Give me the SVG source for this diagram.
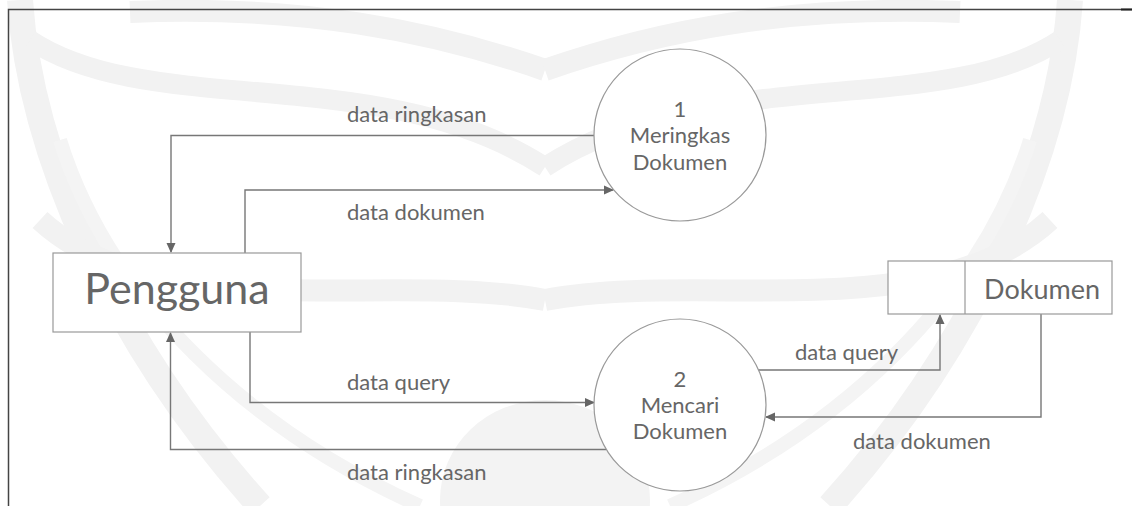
<svg xmlns="http://www.w3.org/2000/svg" width="1132" height="506" viewBox="0 0 1132 506">
<defs>
<marker id="arr" markerWidth="10" markerHeight="10" refX="9" refY="5" orient="auto" markerUnits="userSpaceOnUse">
<path d="M0,0.5 L10,5 L0,9.5 Z" fill="#666"/>
</marker>
<g id="wmhalf">
<path d="M20,0 C30,150 110,340 260,506" fill="none" stroke="#f2f2f2" stroke-width="26"/>
<path d="M60,140 C110,300 250,430 420,506" fill="none" stroke="#f4f4f4" stroke-width="14"/>
<path d="M130,12 C300,5 430,30 545,70" fill="none" stroke="#f2f2f2" stroke-width="22"/>
<path d="M30,40 C150,120 380,60 545,167" fill="none" stroke="#f2f2f2" stroke-width="20"/>
<path d="M40,220 C160,330 390,270 545,300" fill="none" stroke="#f2f2f2" stroke-width="22"/>
</g>
</defs>
<style>
.lbl{font-family:Lato,"Open Sans",sans-serif;font-size:22px;fill:#666}
.node{fill:#fff;stroke:#999;stroke-width:1.2}
.conn{fill:none;stroke:#777;stroke-width:1.4;marker-end:url(#arr)}
</style>
<rect width="1132" height="506" fill="#fff"/>
<g id="watermark">
<use href="#wmhalf"/>
<use href="#wmhalf" transform="translate(1090,0) scale(-1,1)"/>
<ellipse cx="545" cy="500" rx="105" ry="100" fill="#f3f3f3"/>
</g>
<g id="border">
<path d="M8.5,506 L8.5,9.5 L1132,9.5" fill="none" stroke="#444" stroke-width="1.5"/>
<path d="M1121,9.5 L1132,9.5" stroke="#222" stroke-width="2"/>
</g>
<g id="connectors">
<path class="conn" d="M595,135.5 L171,135.5 L171,252"/>
<path class="conn" d="M245,253 L245,190 L613,190"/>
<path class="conn" d="M250,332 L250,402.5 L594,402.5"/>
<path class="conn" d="M606,449.5 L170.5,449.5 L170.5,333"/>
<path class="conn" d="M758,370 L940,370 L940,315"/>
<path class="conn" d="M1041,314 L1041,417 L766,417"/>
<text class="lbl" x="347" y="122">data ringkasan</text>
<text class="lbl" x="347" y="220">data dokumen</text>
<text class="lbl" x="347" y="390">data query</text>
<text class="lbl" x="347" y="480">data ringkasan</text>
<text class="lbl" x="795" y="360">data query</text>
<text class="lbl" x="853" y="449">data dokumen</text>
</g>
<g id="pengguna">
<rect class="node" x="53" y="253" width="248" height="79"/>
<text x="177" y="304" text-anchor="middle" style="font-family:Lato,'Open Sans',sans-serif;font-size:43px;fill:#666">Pengguna</text>
</g>
<g id="proses1">
<circle class="node" cx="680" cy="135" r="86"/>
<text class="lbl" x="680" y="117" text-anchor="middle">1</text>
<text class="lbl" x="680" y="143" text-anchor="middle">Meringkas</text>
<text class="lbl" x="680" y="170" text-anchor="middle">Dokumen</text>
</g>
<g id="proses2">
<circle class="node" cx="680" cy="405" r="86"/>
<text class="lbl" x="680" y="387" text-anchor="middle">2</text>
<text class="lbl" x="680" y="413" text-anchor="middle">Mencari</text>
<text class="lbl" x="680" y="439" text-anchor="middle">Dokumen</text>
</g>
<g id="dokumen">
<rect class="node" x="888" y="261" width="224" height="53"/>
<line x1="965" y1="261" x2="965" y2="314" stroke="#999" stroke-width="1.2"/>
<text x="1100" y="299" text-anchor="end" style="font-family:Lato,'Open Sans',sans-serif;font-size:27px;fill:#666">Dokumen</text>
</g>
</svg>
